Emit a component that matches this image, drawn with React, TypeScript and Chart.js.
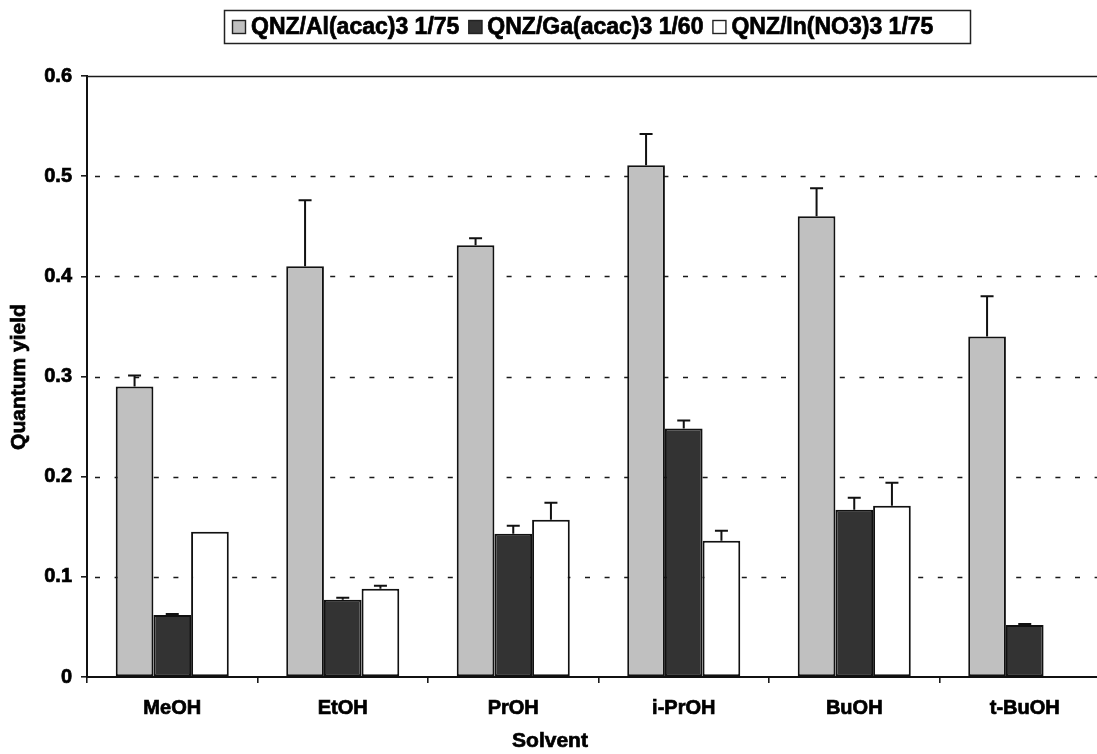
import React, { useEffect, useRef } from "react";
import { Chart, registerables } from "chart.js";

Chart.register(...registerables);

const categories = ["MeOH", "EtOH", "PrOH", "i-PrOH", "BuOH", "t-BuOH"];
const seriesNames = ["QNZ/Al(acac)3 1/75", "QNZ/Ga(acac)3 1/60", "QNZ/In(NO3)3 1/75"];
const alValues = [0.29, 0.41, 0.431, 0.511, 0.46, 0.34];
const alErrors = [0.011, 0.066, 0.007, 0.031, 0.028, 0.04];
const gaValues = [0.062, 0.077, 0.143, 0.248, 0.167, 0.052];
const gaErrors = [0.001, 0.002, 0.008, 0.008, 0.012, 0.001];
const inValues = [0.145, 0.088, 0.157, 0.136, 0.171, null];
const inErrors = [0, 0.003, 0.017, 0.01, 0.023, 0];
const yTickLabels = ["0", "0.1", "0.2", "0.3", "0.4", "0.5", "0.6"];
const seriesColors = ["#c0c0c0", "#333333", "#ffffff"];
const errorSets = [alErrors, gaErrors, inErrors];

const FONT = '"Liberation Sans", Arial, Helvetica, sans-serif';

const overlayPlugin = {
  id: "overlay",
  beforeDatasetsDraw(chart: any) {
    const ctx = chart.ctx;
    const y = chart.scales.y;
    const { left, right } = chart.chartArea;
    ctx.save();
    ctx.strokeStyle = "#1a1a1a";
    ctx.lineWidth = 1.7;
    y.ticks.forEach((t: any) => {
      const py = Math.round(y.getPixelForValue(t.value)) + 0.5;
      if (t.value > 0.001 && t.value < 0.599) {
        ctx.setLineDash([5, 14.6]);
        ctx.lineDashOffset = -8;
        ctx.beginPath();
        ctx.moveTo(left, py);
        ctx.lineTo(right, py);
        ctx.stroke();
      } else if (t.value >= 0.599) {
        ctx.setLineDash([]);
        ctx.beginPath();
        ctx.moveTo(left, py);
        ctx.lineTo(right, py);
        ctx.stroke();
      }
    });
    ctx.restore();
  },
  afterDatasetsDraw(chart: any) {
    const ctx = chart.ctx;
    const y = chart.scales.y;
    ctx.save();
    ctx.strokeStyle = "#111";
    ctx.lineWidth = 2;
    chart.data.datasets.forEach((ds: any, i: number) => {
      const meta = chart.getDatasetMeta(i);
      const errs = errorSets[i];
      meta.data.forEach((el: any, j: number) => {
        const v = ds.data[j];
        const e = errs[j];
        if (v == null || !e) return;
        const x = el.x;
        const yb = y.getPixelForValue(v);
        const yt = y.getPixelForValue(v + e);
        ctx.beginPath();
        ctx.moveTo(x, yb);
        ctx.lineTo(x, yt);
        ctx.moveTo(x - 6.5, yt);
        ctx.lineTo(x + 6.5, yt);
        ctx.stroke();
      });
    });
    ctx.restore();
  },
  afterDraw(chart: any) {
    const ctx = chart.ctx;
    ctx.save();
    ctx.fillStyle = "#000";
    ctx.strokeStyle = "#000";
    ctx.lineWidth = 0.7;
    // axis titles
    ctx.font = `bold 21px ${FONT}`;
    ctx.textAlign = "center";
    ctx.textBaseline = "middle";
    ctx.fillText("Solvent", 550, 741);
    ctx.strokeText("Solvent", 550, 741);
    ctx.save();
    ctx.translate(19, 377);
    ctx.rotate(-Math.PI / 2);
    ctx.fillText("Quantum yield", 0, 0);
    ctx.strokeText("Quantum yield", 0, 0);
    ctx.restore();
    // legend
    ctx.strokeStyle = "#222";
    ctx.lineWidth = 1.5;
    ctx.strokeRect(224.5, 10.5, 746, 33);
    ctx.font = `bold 23px ${FONT}`;
    ctx.textAlign = "left";
    let x = 232;
    const cy = 27;
    seriesNames.forEach((name, i) => {
      ctx.fillStyle = seriesColors[i];
      ctx.fillRect(x, cy - 7, 14, 14);
      ctx.strokeStyle = "#222";
      ctx.lineWidth = 1.4;
      ctx.strokeRect(x + 0.5, cy - 6.5, 13, 13);
      ctx.fillStyle = "#000";
      ctx.strokeStyle = "#000";
      ctx.lineWidth = 0.7;
      ctx.fillText(name, x + 19, cy + 1);
      ctx.strokeText(name, x + 19, cy + 1);
      x = x + 19 + ctx.measureText(name).width + 9;
    });
    ctx.restore();
  },
};

export default function App() {
  const ref = useRef<HTMLCanvasElement | null>(null);
  useEffect(() => {
    if (!ref.current) return;
    const mk = (label: string, data: any[], color: string) => ({
      label,
      data,
      backgroundColor: color,
      borderColor: "#111111",
      borderWidth: 2,
      borderSkipped: false,
      categoryPercentage: 0.663,
      barPercentage: 1,
    });
    const tickFont = { family: FONT, size: 20, weight: "bold" };
    const chart = new Chart(ref.current, {
      type: "bar",
      data: {
        labels: categories,
        datasets: [
          mk(seriesNames[0], alValues, seriesColors[0]),
          mk(seriesNames[1], gaValues, seriesColors[1]),
          mk(seriesNames[2], inValues, seriesColors[2]),
        ],
      },
      options: {
        animation: false,
        responsive: false,
        maintainAspectRatio: false,
        layout: { padding: { top: 76, right: 20, left: 0, bottom: 0 } },
        plugins: { legend: { display: false }, tooltip: { enabled: false } },
        scales: {
          x: {
            offset: true,
            grid: {
              display: true,
              drawOnChartArea: false,
              drawTicks: true,
              tickLength: 6,
              color: "#1a1a1a",
              lineWidth: 1.6,
              offset: true,
            },
            border: { display: true, color: "#111", width: 2 },
            ticks: {
              color: "#000",
              font: tickFont,
              textStrokeColor: "#000",
              textStrokeWidth: 0.7,
              padding: 13,
              maxRotation: 0,
              autoSkip: false,
            },
            afterFit: (s: any) => {
              s.height = 77;
            },
          },
          y: {
            min: 0,
            max: 0.6,
            grid: {
              display: true,
              drawOnChartArea: false,
              drawTicks: true,
              tickLength: 6,
              color: "#1a1a1a",
              lineWidth: 1.6,
            },
            border: { display: true, color: "#111", width: 2 },
            ticks: {
              stepSize: 0.1,
              color: "#000",
              font: tickFont,
              textStrokeColor: "#000",
              textStrokeWidth: 0.7,
              padding: 9,
              callback: (_v: any, i: number) => yTickLabels[i],
            },
            afterFit: (s: any) => {
              s.width = 87;
            },
          },
        },
      },
      plugins: [overlayPlugin],
    } as any);
    return () => chart.destroy();
  }, []);
  return (
    <div
      style={{
        position: "fixed",
        left: 0,
        top: 0,
        width: 1097,
        height: 754,
        overflow: "hidden",
        background: "#fff",
      }}
    >
      <canvas ref={ref} width={1130} height={754} style={{ display: "block", width: 1130, height: 754 }} />
    </div>
  );
}
